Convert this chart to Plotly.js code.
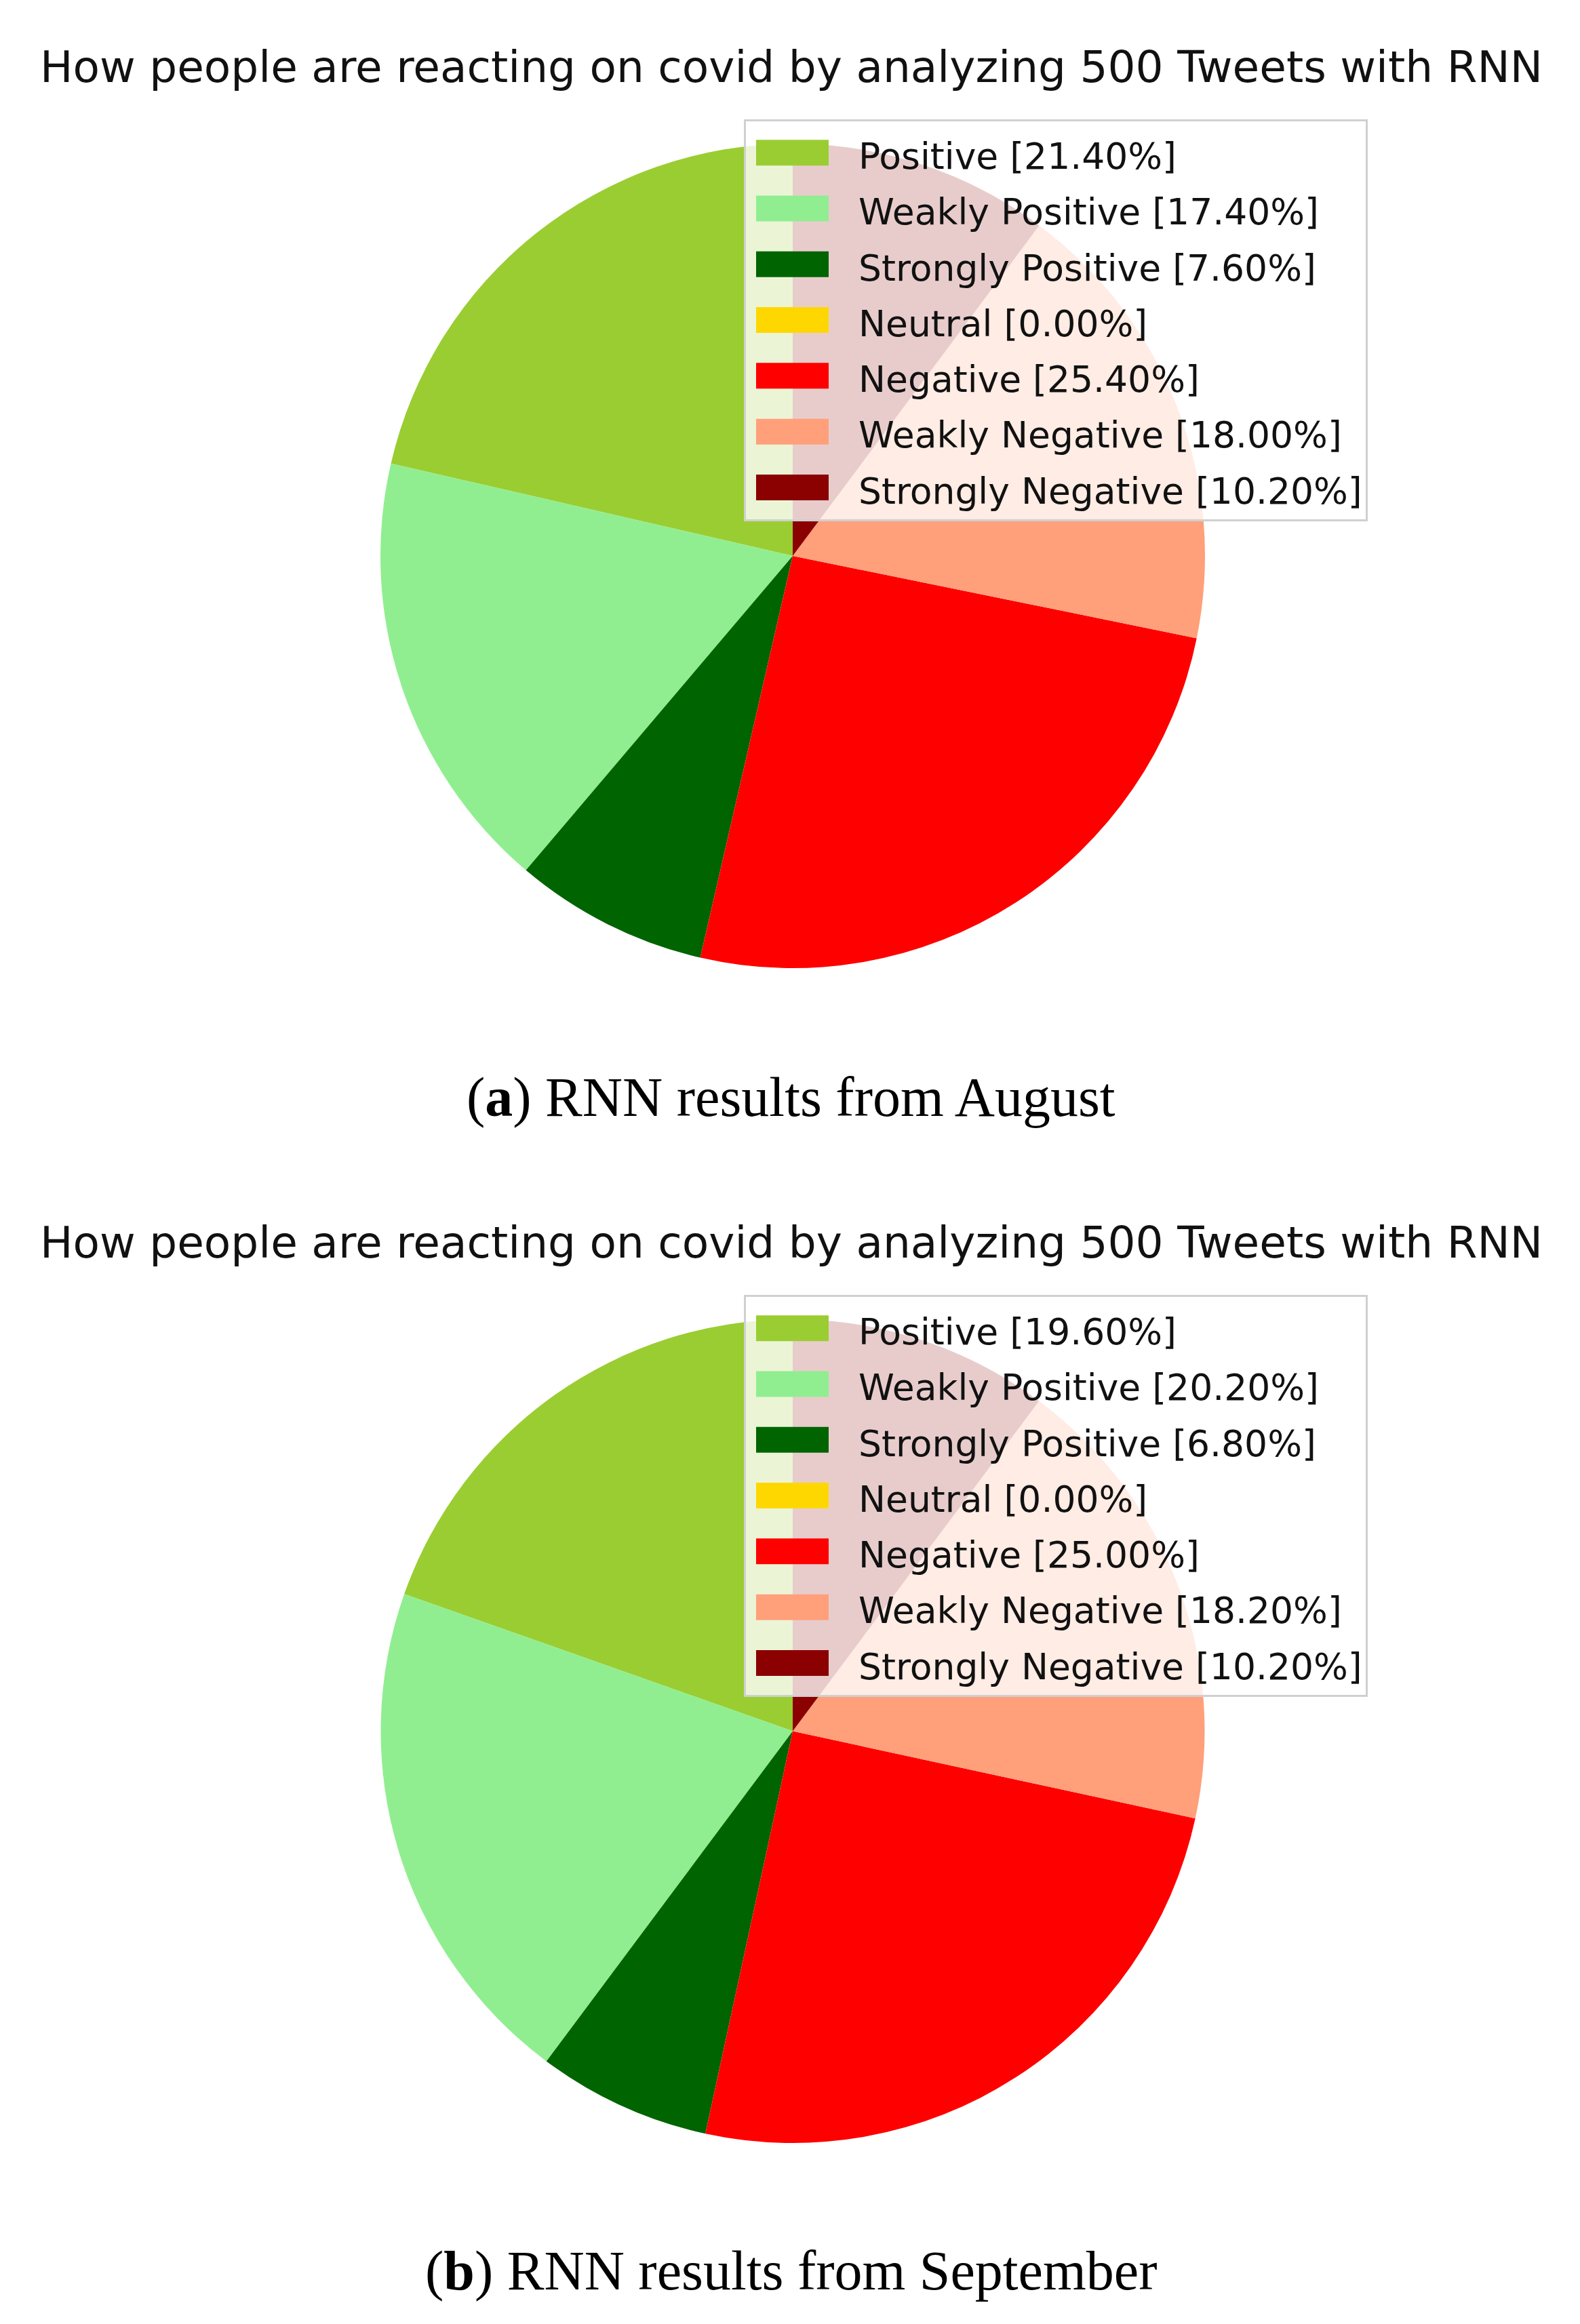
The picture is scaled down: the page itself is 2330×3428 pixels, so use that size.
<!DOCTYPE html>
<html>
<head>
<meta charset="utf-8">
<script src="https://cdn.plot.ly/plotly-3.0.1.min.js"></script>
<style>html,body{margin:0;padding:0;background:#fff;}#chart{width:2330px;height:3428px;}</style>
</head>
<body>
<div id="chart"></div>
<script>
const categories = ["Positive", "Weakly Positive", "Strongly Positive", "Neutral", "Negative", "Weakly Negative", "Strongly Negative"];
const augustValues = [21.40, 17.40, 7.60, 0.00, 25.40, 18.00, 10.20];
const septemberValues = [19.60, 20.20, 6.80, 0.00, 25.00, 18.20, 10.20];
const sliceColors = ["#9ACD32", "#90EE90", "#006400", "#FFD700", "#FF0000", "#FFA07A", "#8B0000"];
const chartTitle = "How people are reacting on covid by analyzing 500 Tweets with RNN";
const captionA = "(<b>a</b>) RNN results from August";
const captionB = "(<b>b</b>) RNN results from September";

const W = 2330, H = 3428;
const legendTextSize = 53.5;
// styleTail keeps the two pies' legend labels distinct so Plotly does not merge them
function labelsFor(vals, styleTail) {
  return categories.map((c, i) =>
    '<span style="font-size:' + legendTextSize + 'px' + styleTail + '">' + c + " [" + vals[i].toFixed(2) + "%]</span>");
}
function pieTrace(vals, domain, legend, styleTail) {
  const total = vals.reduce((a, b) => a + b, 0);
  return {
    type: "pie",
    labels: labelsFor(vals, styleTail),
    values: vals,
    marker: {colors: sliceColors, line: {width: 0}},
    sort: false,
    direction: "counterclockwise",
    // first slice starts at 12 o'clock and runs counterclockwise (matplotlib startangle=90)
    rotation: -vals[0] / total * 360,
    textinfo: "none",
    hoverinfo: "skip",
    domain: domain,
    legend: legend
  };
}
const cx = 1169, r = 608;
const dx = [(cx - r) / W, (cx + r) / W];
const trace1 = pieTrace(augustValues, {x: dx, y: [1 - 1428 / H, 1 - 212 / H]}, "legend", "");
const trace2 = pieTrace(septemberValues, {x: dx, y: [1 - 3161 / H, 1 - 1946 / H]}, "legend2", ";");

const legendStyle = {
  bgcolor: "rgba(255,255,255,0.8)",
  bordercolor: "#d0d0d0",
  borderwidth: 3,
  font: {family: "DejaVu Sans", size: 61, color: "#111"},
  xanchor: "left",
  yanchor: "top",
  traceorder: "normal",
  itemwidth: 156
};

const layout = {
  width: W, height: H,
  margin: {l: 0, r: 0, t: 0, b: 0},
  paper_bgcolor: "#fff",
  showlegend: true,
  legend: Object.assign({}, legendStyle, {x: 1097 / W, y: 1 - 176 / H}),
  legend2: Object.assign({}, legendStyle, {x: 1097 / W, y: 1 - 1910 / H}),
  annotations: [
    {text: chartTitle, x: 1167 / W, y: 1 - 98 / H, xref: "paper", yref: "paper", xanchor: "center", yanchor: "middle", showarrow: false, font: {family: "DejaVu Sans", size: 64.5, color: "#111"}},
    {text: chartTitle, x: 1167 / W, y: 1 - 1832 / H, xref: "paper", yref: "paper", xanchor: "center", yanchor: "middle", showarrow: false, font: {family: "DejaVu Sans", size: 64.5, color: "#111"}},
    {text: captionA, x: 1167 / W, y: 1 - 1618 / H, xref: "paper", yref: "paper", xanchor: "center", yanchor: "middle", showarrow: false, font: {family: "Liberation Serif", size: 82, color: "#000"}},
    {text: captionB, x: 1167 / W, y: 1 - 3349 / H, xref: "paper", yref: "paper", xanchor: "center", yanchor: "middle", showarrow: false, font: {family: "Liberation Serif", size: 82, color: "#000"}}
  ]
};

Plotly.newPlot("chart", [trace1, trace2], layout, {displayModeBar: false, staticPlot: true}).then(function () {
  // widen legend swatches to matplotlib-style patches
  document.querySelectorAll("#chart path.legendpie").forEach(function (p) {
    p.setAttribute("d", "M39,19H-68V-19H39Z");
    p.style.strokeWidth = "0px";
  });
});
</script>
</body>
</html>
